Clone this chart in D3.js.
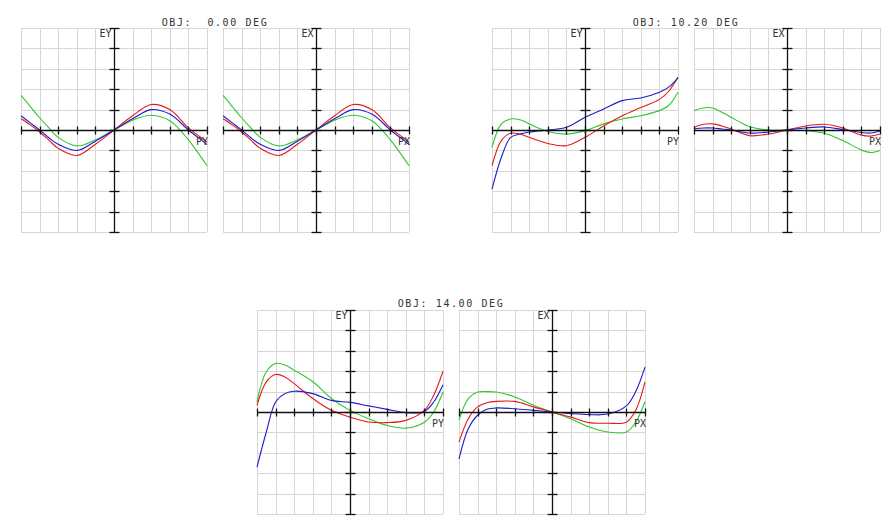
<!DOCTYPE html>
<html>
<head>
<meta charset="utf-8">
<script src="https://cdn.jsdelivr.net/npm/d3@7"></script>
<style>
  body { margin: 0; background: #fff; }
  text { font-family: "DejaVu Sans Mono", monospace; }
</style>
</head>
<body>
<div id="chart"></div>
<script>
// relative pupil coordinate where each fan was sampled
const pupil = [-1, -0.9, -0.8, -0.7, -0.6, -0.4, -0.2, 0, 0.2, 0.4, 0.6, 0.8, 0.9, 1];

// ray errors, in grid divisions
const ey0Blue  = [0.7, 0.35, 0, -0.38, -0.7, -1.0, -0.55, 0, 0.55, 1.0, 0.78, 0, -0.35, -0.72];
const ey0Red   = [0.55, 0.25, -0.1, -0.5, -0.9, -1.25, -0.7, 0, 0.7, 1.25, 1.0, 0.1, -0.25, -0.6];
const ey0Green = [1.7, 1.15, 0.6, 0.1, -0.36, -0.78, -0.48, 0, 0.48, 0.72, 0.45, -0.48, -1.1, -1.75];

const ey10Blue  = [-2.9, -1.35, -0.36, -0.2, -0.1, 0.0, 0.13, 0.62, 1.03, 1.44, 1.57, 1.85, 2.1, 2.56];
const ey10Red   = [-1.75, -0.52, -0.16, -0.2, -0.36, -0.66, -0.77, -0.36, 0.2, 0.7, 1.1, 1.5, 1.9, 2.6];
const ey10Green = [-0.85, 0.3, 0.54, 0.5, 0.3, -0.07, -0.2, -0.03, 0.3, 0.54, 0.7, 0.95, 1.2, 1.85];
const ex10Blue  = [0.05, 0.1, 0.1, 0.05, 0, -0.15, -0.1, 0, 0.1, 0.15, 0.02, -0.12, -0.15, -0.05];
const ex10Red   = [0.13, 0.28, 0.3, 0.2, 0.05, -0.28, -0.2, 0, 0.2, 0.28, 0.1, -0.25, -0.3, -0.2];
const ex10Green = [0.95, 1.08, 1.08, 0.87, 0.62, 0.16, 0.0, 0, -0.03, -0.16, -0.52, -0.98, -1.1, -1.0];

const ey14Blue  = [-2.7, -0.98, 0.49, 0.9, 1.02, 0.9, 0.57, 0.47, 0.3, 0.13, -0.03, 0.03, 0.49, 1.34];
const ey14Red   = [0.33, 1.48, 1.84, 1.72, 1.39, 0.66, 0.08, -0.25, -0.49, -0.52, -0.41, 0.08, 0.82, 2.0];
const ey14Green = [0.5, 1.97, 2.38, 2.3, 2.05, 1.48, 0.66, 0.08, -0.33, -0.66, -0.79, -0.5, 0.0, 0.98];
const ex14Blue  = [-2.3, -0.82, -0.16, 0.13, 0.2, 0.16, 0.08, 0, -0.08, -0.13, -0.1, 0.3, 1.0, 2.2];
const ex14Red   = [-1.48, -0.33, 0.25, 0.45, 0.52, 0.52, 0.25, 0, -0.25, -0.52, -0.55, -0.5, 0.08, 1.48];
const ex14Green = [-0.4, 0.66, 0.98, 1.0, 0.98, 0.74, 0.33, 0, -0.33, -0.74, -0.98, -0.98, -0.5, 0.5];

const titles = ["OBJ:  0.00 DEG", "OBJ: 10.20 DEG", "OBJ: 14.00 DEG"];
const colors = {red: "#e81818", green: "#2ec82e", blue: "#1c1ccc"};

let W = 885, H = 519;
let pw = 186, ph = 204;

const svg = d3.select("#chart")
            .append("svg")
            .attr("width", W)
            .attr("height", H)
            .style("background", "#fff");

// each panel: top-left corner, axis names and curves
let panels = [
    {x: 21,  y: 28,  yl: "EY", xl: "PY", red: ey0Red,   green: ey0Green,  blue: ey0Blue},
    {x: 223, y: 28,  yl: "EX", xl: "PX", red: ey0Red,   green: ey0Green,  blue: ey0Blue},
    {x: 492, y: 28,  yl: "EY", xl: "PY", red: ey10Red,  green: ey10Green, blue: ey10Blue},
    {x: 694, y: 28,  yl: "EX", xl: "PX", red: ex10Red,  green: ex10Green, blue: ex10Blue},
    {x: 257, y: 310, yl: "EY", xl: "PY", red: ey14Red,  green: ey14Green, blue: ey14Blue},
    {x: 459, y: 310, yl: "EX", xl: "PX", red: ex14Red,  green: ex14Green, blue: ex14Blue}
];

panels.forEach((p) => {
    let xScale = d3.scaleLinear().domain([-1, 1]).range([p.x, p.x + pw]);
    let yScale = d3.scaleLinear().domain([-5, 5]).range([p.y + ph, p.y]);
    const g = svg.append("g");

    // grid
    g.selectAll(".vg").data(xScale.ticks(10)).enter().append("line")
        .attr("x1", d => Math.round(xScale(d)) + 0.5).attr("x2", d => Math.round(xScale(d)) + 0.5)
        .attr("y1", p.y).attr("y2", p.y + ph)
        .attr("stroke", "#d6d6d6").attr("stroke-width", 1);
    g.selectAll(".hg").data(yScale.ticks(10)).enter().append("line")
        .attr("y1", d => Math.round(yScale(d)) + 0.5).attr("y2", d => Math.round(yScale(d)) + 0.5)
        .attr("x1", p.x).attr("x2", p.x + pw)
        .attr("stroke", "#d6d6d6").attr("stroke-width", 1);

    let cx = Math.round(xScale(0)) + 0.5;
    let cy = Math.round(yScale(0)) + 0.5;

    // curves
    ["green", "red", "blue"].forEach((c) => {
        let line = d3.line()
            .x((d, i) => xScale(pupil[i]))
            .y(d => yScale(d))
            .curve(d3.curveCatmullRom.alpha(0.5));
        g.append("path")
            .attr("d", line(p[c]))
            .attr("fill", "none")
            .attr("stroke", colors[c])
            .attr("stroke-width", 1.1);
    });

    // axes
    g.append("line").attr("x1", p.x).attr("x2", p.x + pw).attr("y1", cy).attr("y2", cy)
        .attr("stroke", "#111").attr("stroke-width", 1.3);
    g.append("line").attr("x1", cx).attr("x2", cx).attr("y1", p.y).attr("y2", p.y + ph)
        .attr("stroke", "#111").attr("stroke-width", 1.3);
    g.selectAll(".xt").data(xScale.ticks(10)).enter().append("line")
        .attr("x1", d => Math.round(xScale(d)) + 0.5).attr("x2", d => Math.round(xScale(d)) + 0.5)
        .attr("y1", cy - 4).attr("y2", cy + 4)
        .attr("stroke", "#111").attr("stroke-width", 1.3);
    g.selectAll(".yt").data(yScale.ticks(10)).enter().append("line")
        .attr("y1", d => Math.round(yScale(d)) + 0.5).attr("y2", d => Math.round(yScale(d)) + 0.5)
        .attr("x1", cx - 5).attr("x2", cx + 5)
        .attr("stroke", "#111").attr("stroke-width", 1.3);

    // axis names
    g.append("text")
        .attr("x", cx - 3).attr("y", p.y + 9)
        .attr("text-anchor", "end")
        .attr("font-size", "10px")
        .attr("fill", "#333")
        .text(p.yl);
    g.append("text")
        .attr("x", p.x + pw + 1).attr("y", cy + 14)
        .attr("text-anchor", "end")
        .attr("font-size", "10px")
        .attr("fill", "#333")
        .text(p.xl);
});

// field titles, centred on each pair
let titlePos = [[215, 26], [686, 26], [451, 307]];
titles.forEach((t, i) => {
    svg.append("text")
        .attr("x", titlePos[i][0])
        .attr("y", titlePos[i][1])
        .attr("text-anchor", "middle")
        .attr("font-size", "10px")
        .attr("letter-spacing", "1.6px")
        .attr("fill", "#333")
        .style("white-space", "pre")
        .text(t);
});
</script>
</body>
</html>
